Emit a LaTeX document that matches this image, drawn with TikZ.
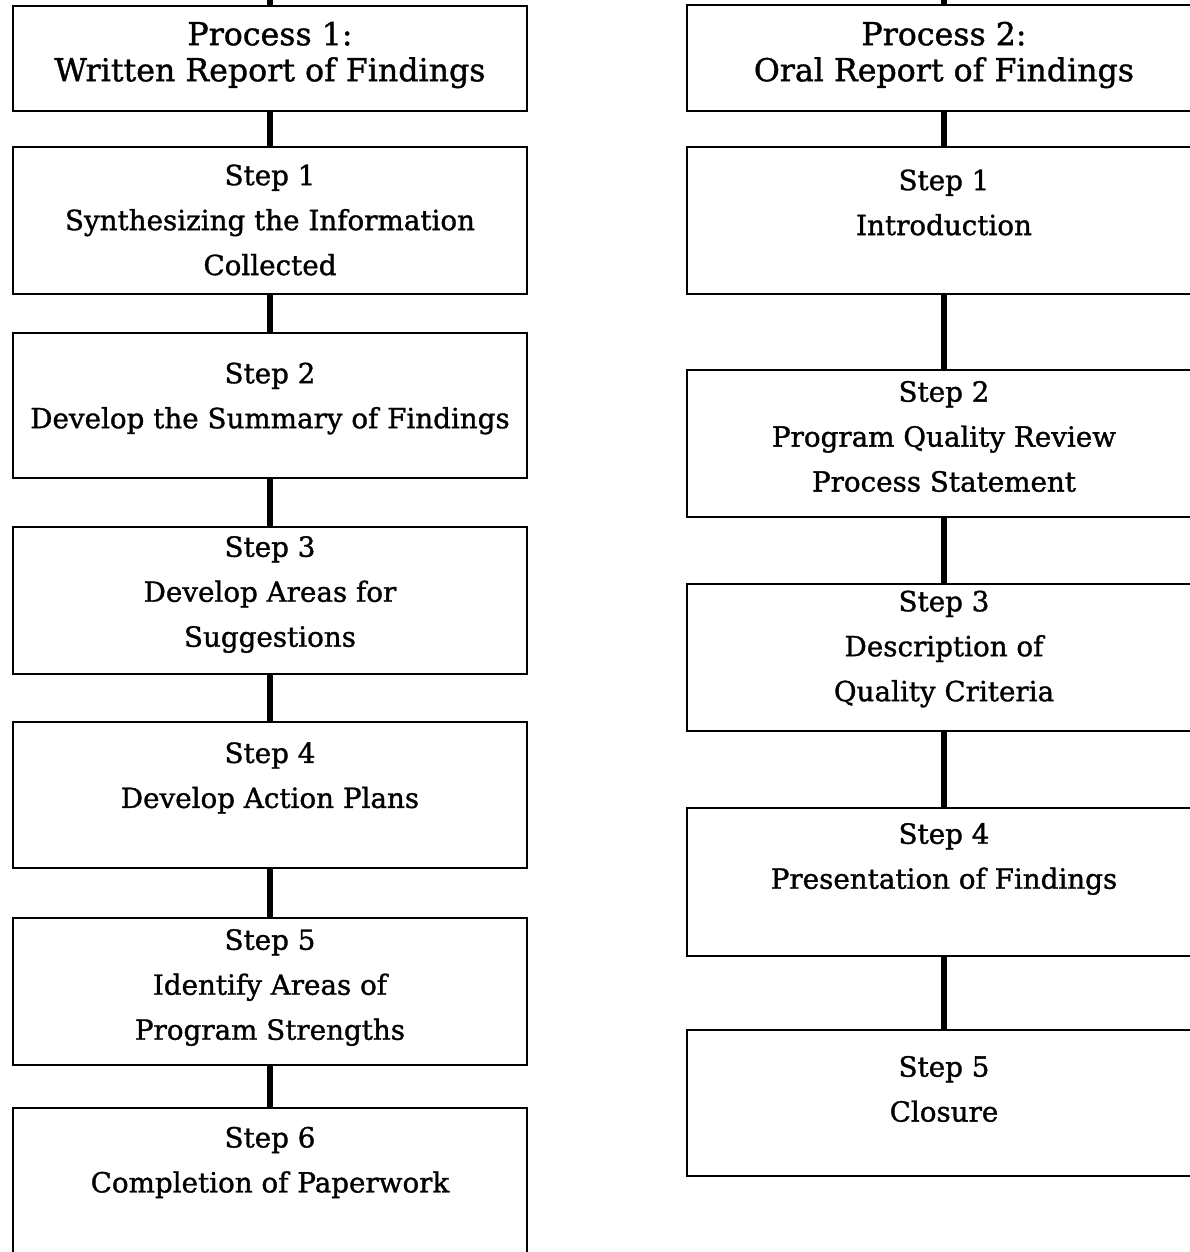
\documentclass[tikz,border=0pt]{standalone}
\usepackage{fontspec}
\setmainfont{DejaVu Serif}
\newfontfamily\stepfont{DejaVu Serif}[UprightFeatures={FakeBold=1.2}]
\usepackage{tikz}

\tikzset{
  stepbox/.style={draw, line width=1.4pt, minimum width=10.28cm, inner sep=0pt},
  steptext/.style={align=center, font=\stepfont\fontsize{15.8}{25.6}\selectfont},
  headtext/.style={align=center, font=\stepfont\fontsize{18}{20.5}\selectfont},
  link/.style={line width=3pt}
}

\begin{document}
\begin{tikzpicture}[x=0.02cm, y=-0.02cm]
\pgfmathsetmacro{\lx}{270}  % centre of left column (px)
\pgfmathsetmacro{\rx}{944}  % centre of right column (px)
\useasboundingbox (0,0) rectangle (1190,1252);
% Headings
\node[stepbox, minimum height=2.1cm] (L0) at (\lx,58.5) {};
\node[headtext] (L0-t) at (\lx,55) {Process 1:\\Written Report of Findings};
\node[stepbox, minimum height=2.12cm] (R0) at (\rx,58) {};
\node[headtext] (R0-t) at (\rx,55) {Process 2:\\Oral Report of Findings};
% Left column
\foreach \n/\yc/\h/\ty/\lab in {L1/220.5/147/220/Step 1\\Synthesizing the Information\\Collected,
    L2/405.5/145/398.5/Step 2\\Develop the Summary of Findings,
    L3/600.5/147/594.5/Step 3\\Develop Areas for\\Suggestions,
    L4/795/146/778/Step 4\\Develop Action Plans,
    L5/991.5/147/987.5/Step 5\\Identify Areas of\\Program Strengths,
    L6/1182/148/1162.5/Step 6\\Completion of Paperwork} {
    \pgfmathsetmacro{\hh}{\h*0.02}
    \node[stepbox, minimum height=\hh cm] (\n) at (\lx,\yc) {};
    \node[steptext] (\n-t) at (\lx,\ty) {\lab};
}
% Right column
\foreach \n/\yc/\h/\ty/\lab in {R1/220.5/147/202.5/Step 1\\Introduction,
    R2/443.5/147/436.5/Step 2\\Program Quality Review\\Process Statement,
    R3/657.5/147/649/Step 3\\Description of\\Quality Criteria,
    R4/882/148/859/Step 4\\Presentation of Findings,
    R5/1103/146/1089/Step 5\\Closure} {
    \pgfmathsetmacro{\hh}{\h*0.02}
    \node[stepbox, minimum height=\hh cm] (\n) at (\rx,\yc) {};
    \node[steptext] (\n-t) at (\rx,\ty) {\lab};
}
% Connectors
\coordinate (ltop) at (\lx,0);
\coordinate (rtop) at (\rx,0);
\draw[link] (ltop) -- (L0);
\draw[link] (rtop) -- (R0);
\foreach \a/\b in {L0/L1, L1/L2, L2/L3, L3/L4, L4/L5, L5/L6, R0/R1, R1/R2, R2/R3, R3/R4, R4/R5}
    \draw[link] (\a) -- (\b);
\end{tikzpicture}
\end{document}
